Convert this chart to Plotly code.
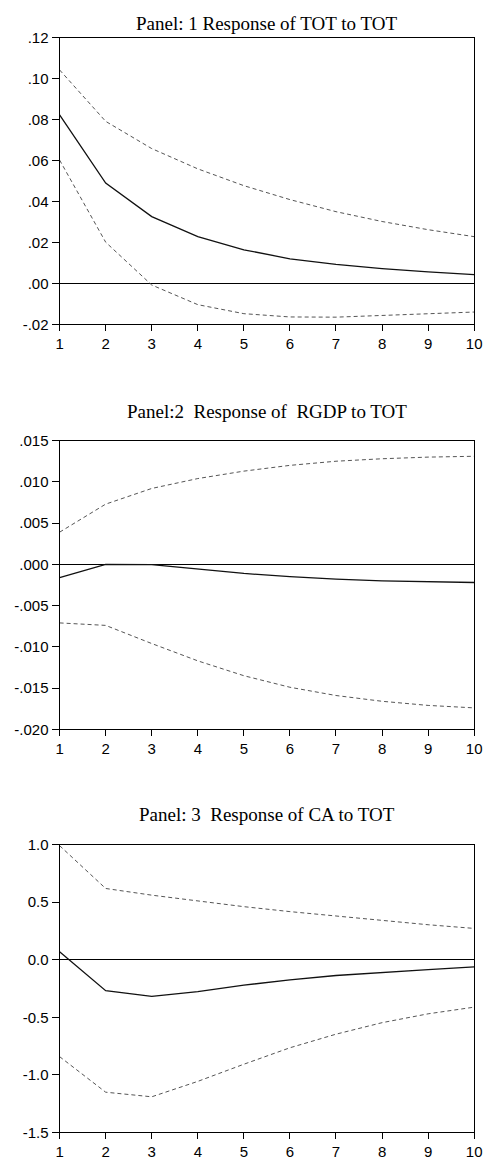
import plotly.graph_objects as go

periods = list(range(1, 11))

# Panel 1: Response of TOT to TOT
tot_mid = [0.0823, 0.0490, 0.0326, 0.0228, 0.0164, 0.0120, 0.0093, 0.0072, 0.0056, 0.0043]
tot_up = [0.1042, 0.0791, 0.0658, 0.0559, 0.0477, 0.0409, 0.0350, 0.0302, 0.0262, 0.0228]
tot_lo = [0.0602, 0.0201, -0.0008, -0.0104, -0.0148, -0.0164, -0.0165, -0.0157, -0.0149, -0.0140]

# Panel 2: Response of RGDP to TOT
rgdp_mid = [-0.0016, 0.0000, -0.00004, -0.0006, -0.0011, -0.0015, -0.0018, -0.0020, -0.0021, -0.0022]
rgdp_up = [0.0039, 0.0073, 0.0092, 0.0104, 0.0113, 0.0120, 0.0125, 0.0128, 0.0130, 0.0131]
rgdp_lo = [-0.0071, -0.0074, -0.0096, -0.0117, -0.0135, -0.0149, -0.0159, -0.0166, -0.0171, -0.0174]

# Panel 3: Response of CA to TOT
ca_mid = [0.069, -0.269, -0.318, -0.278, -0.221, -0.175, -0.137, -0.109, -0.086, -0.063]
ca_up = [0.991, 0.619, 0.561, 0.510, 0.461, 0.418, 0.378, 0.338, 0.304, 0.272]
ca_lo = [-0.842, -1.151, -1.191, -1.057, -0.908, -0.765, -0.647, -0.547, -0.470, -0.412]

titles = ["Panel: 1 Response of TOT to TOT",
          "Panel:2  Response of  RGDP to TOT",
          "Panel: 3  Response of CA to TOT"]

ticks1 = [-0.02, 0.00, 0.02, 0.04, 0.06, 0.08, 0.10, 0.12]
ticks2 = [-0.020, -0.015, -0.010, -0.005, 0.000, 0.005, 0.010, 0.015]
ticks3 = [-1.5, -1.0, -0.5, 0.0, 0.5, 1.0]


def lab(v, d):
    s = f"{v:.{d}f}"
    if d >= 2:
        s = s.replace("0.", ".", 1)
    return s

panels = [
    (tot_mid, tot_up, tot_lo, ticks1, [lab(v, 2) for v in ticks1], [-0.02, 0.12]),
    (rgdp_mid, rgdp_up, rgdp_lo, ticks2, [lab(v, 3) for v in ticks2], [-0.020, 0.015]),
    (ca_mid, ca_up, ca_lo, ticks3, [lab(v, 1) for v in ticks3], [-1.5, 1.0]),
]

H = 1165.0
W = 490.0
xdom = [57 / W, 482 / W]
ydoms = [(29, 320), (438, 731), (848, 1140)]
title_y = [15, 408, 817]
tick_font = dict(family="Liberation Sans, Arial", size=15, color="black")

fig = go.Figure()
for i, (mid, up, lo, tv, tt, rng) in enumerate(panels):
    n = "" if i == 0 else str(i + 1)
    xa, ya = "x" + n, "y" + n
    for ys, solid, col, w in [(up, False, "#555555", 1), (lo, False, "#555555", 1), (mid, True, "#111111", 1.3)]:
        fig.add_trace(go.Scatter(x=periods, y=ys, mode="lines", xaxis=xa, yaxis=ya,
                                 line=dict(color=col, width=w, dash="solid" if solid else "4px,3px"),
                                 showlegend=False, hoverinfo="skip"))
    top, bot = ydoms[i]
    fig.layout["xaxis" + n] = dict(domain=xdom, range=[1, 10], tickvals=periods, anchor=ya,
                                   showline=True, linecolor="black", linewidth=1.2, mirror=True,
                                   ticks="outside", ticklen=6, tickcolor="black", showgrid=False,
                                   zeroline=False, tickfont=tick_font, ticklabeloverflow="allow")
    fig.layout["yaxis" + n] = dict(domain=[1 - bot / H, 1 - top / H], range=rng, tickvals=tv, ticktext=tt,
                                   anchor=xa, showline=True, linecolor="black", linewidth=1.2, mirror=True,
                                   ticks="outside", ticklen=7, tickcolor="black", showgrid=False,
                                   zeroline=True, zerolinecolor="black", zerolinewidth=0.8,
                                   tickfont=tick_font, ticklabeloverflow="allow")
    fig.add_annotation(text=titles[i], xref="paper", yref="paper",
                       x=(xdom[0] + xdom[1]) / 2, y=1 - title_y[i] / H,
                       xanchor="center", yanchor="middle", showarrow=False,
                       font=dict(family="Liberation Serif, Times New Roman", size=19, color="black"))

fig.update_layout(width=490, height=1165, margin=dict(l=0, r=0, t=0, b=0),
                  paper_bgcolor="white", plot_bgcolor="white")
fig.write_html("out.html", config={"displayModeBar": False},
               post_script="document.body.style.margin='0';document.body.style.overflow='hidden';")
